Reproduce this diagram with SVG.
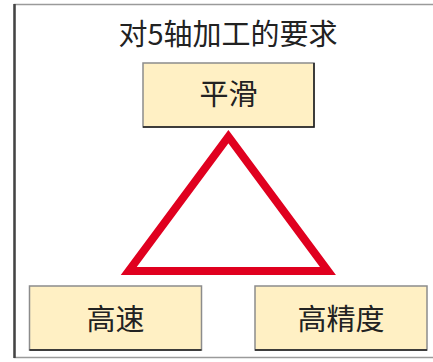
<svg xmlns="http://www.w3.org/2000/svg" width="433" height="362" viewBox="0 0 433 362">
<style>
.t{font-family:"Noto Sans CJK SC","Noto Sans CJK JP",sans-serif;font-size:29px;fill:#222;text-anchor:middle}
.box{fill:#FFF0C4;stroke:#8c8c8c;stroke-width:1.5}
.sh{stroke:#1a1a1a;stroke-width:1.5;fill:none}
</style>
<rect width="433" height="362" fill="#fff"/>
<g id="frame">
<path d="M434,4.5 H14.5 V357.5 H434" fill="none" stroke="#9a9a9a" stroke-width="1.5"/>
<line x1="14.5" y1="4" x2="14.5" y2="358" stroke="#444" stroke-width="2.5"/>
</g>
<g id="title"><text class="t" x="228" y="44.5">对5轴加工的要求</text></g>
<g id="connectors">
<polygon points="228.4,136.7 328,271 128.7,271" fill="none" stroke="#E0001F" stroke-width="8" stroke-miterlimit="10"/>
</g>
<g id="smooth">
<rect class="box" x="143" y="63" width="171" height="64"/>
<path class="sh" d="M143,127 H314 V63"/>
<text class="t" x="228.5" y="104.7">平滑</text>
</g>
<g id="speed">
<rect class="box" x="29.5" y="286" width="172" height="64"/>
<path class="sh" d="M29.5,350 H201.5"/>
<text class="t" x="115.5" y="330">高速</text>
</g>
<g id="precision">
<rect class="box" x="255" y="286" width="172" height="64"/>
<path class="sh" d="M255,350 H427"/>
<text class="t" x="341" y="330">高精度</text>
</g>
</svg>
